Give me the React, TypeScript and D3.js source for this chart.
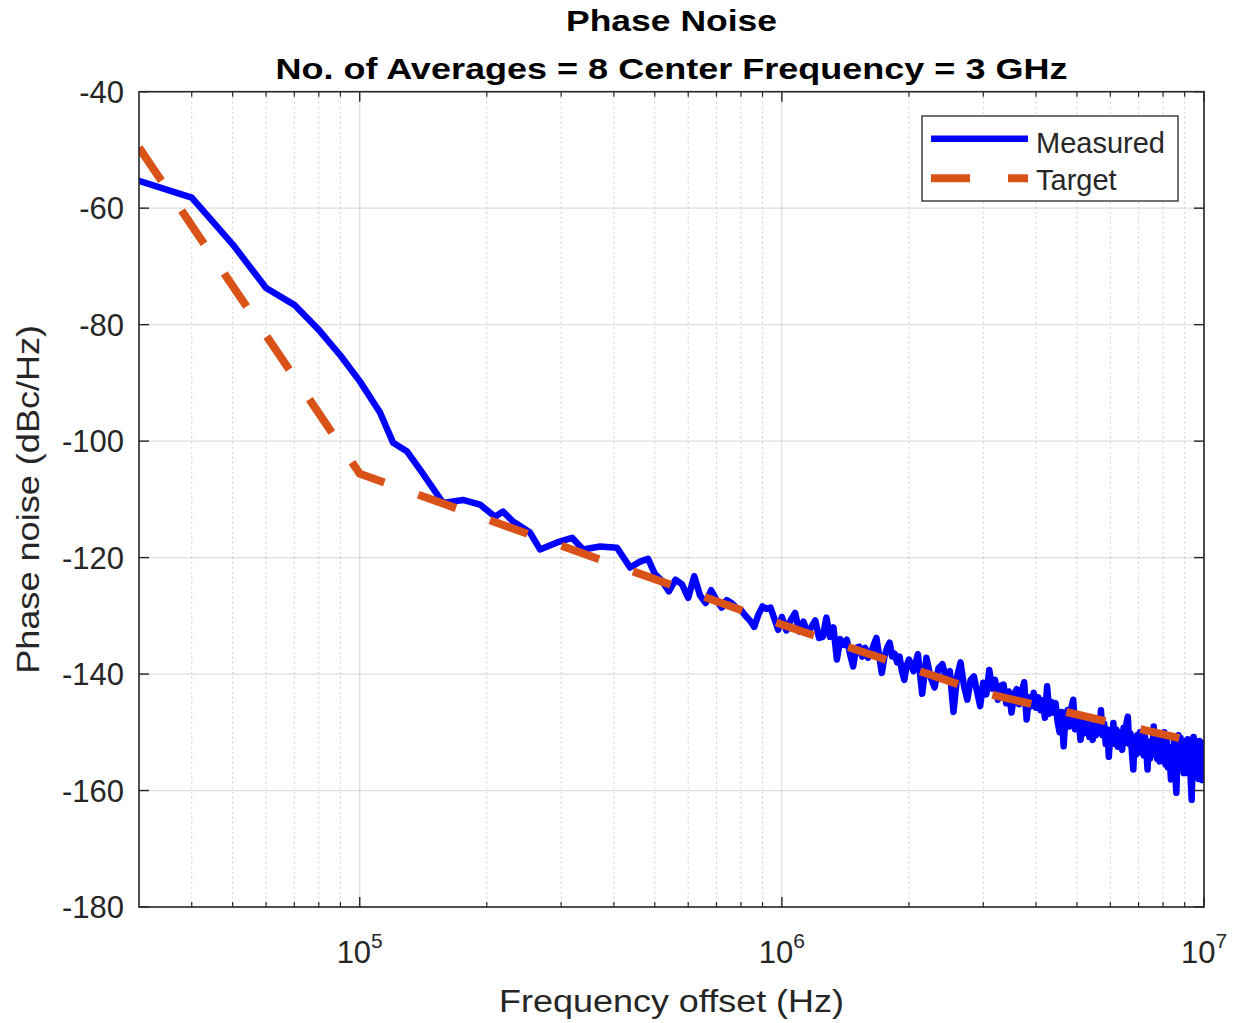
import React from 'react';
import * as d3 from 'd3';

const titleLines = ['Phase Noise', 'No. of Averages = 8 Center Frequency = 3 GHz'];
const xLabel = 'Frequency offset (Hz)';
const yLabel = 'Phase noise (dBc/Hz)';
const legendLabels = ['Measured', 'Target'];
const xDomain = [3e4, 1e7];
const yDomain = [-180, -40];
const yTicks = [-180, -160, -140, -120, -100, -80, -60, -40];
const xMajorTicks = [1e5, 1e6, 1e7];
const xMajorExp = ['5', '6', '7'];

const measuredFreq = [
  3.0e4, 4.0e4, 5.0e4, 6.0e4, 7.0e4, 8.0e4, 9.0e4, 1.0e5, 1.117e5, 1.2e5,
  1.295e5, 1.39e5, 1.575e5, 1.756e5, 1.928e5, 2.092e5, 2.185e5, 2.308e5, 2.532e5, 2.674e5,
  2.934e5, 3.185e5, 3.381e5, 3.709e5, 4.069e5, 4.37e5, 4.614e5, 4.82e5,
  5.0e5, 5.2e5, 5.4e5, 5.6e5, 5.8e5, 6.0e5, 6.2e5, 6.4e5, 6.6e5, 6.8e5,
  7.0e5, 7.2e5, 7.4e5, 7.6e5, 7.8e5, 8.0e5, 8.2e5, 8.4e5, 8.6e5, 8.8e5,
  9.0e5, 9.2e5, 9.4e5, 9.6e5, 9.8e5,
  1.000e6, 1.025e6, 1.050e6, 1.075e6, 1.100e6, 1.125e6, 1.150e6, 1.175e6, 1.200e6, 1.225e6,
  1.250e6, 1.275e6, 1.300e6, 1.325e6, 1.350e6, 1.375e6, 1.400e6, 1.425e6, 1.450e6, 1.475e6,
  1.500e6, 1.525e6, 1.550e6, 1.575e6, 1.600e6, 1.625e6, 1.650e6, 1.675e6, 1.700e6, 1.725e6,
  1.750e6, 1.775e6, 1.800e6, 1.825e6, 1.850e6, 1.875e6, 1.900e6, 1.925e6, 1.950e6, 1.975e6,
  2.00e6, 2.05e6, 2.10e6, 2.15e6, 2.20e6, 2.25e6, 2.30e6, 2.35e6, 2.40e6, 2.45e6,
  2.50e6, 2.55e6, 2.60e6, 2.65e6, 2.70e6, 2.75e6, 2.80e6, 2.85e6, 2.90e6, 2.95e6,
  3.00e6, 3.05e6, 3.10e6, 3.15e6, 3.20e6, 3.25e6, 3.30e6, 3.35e6, 3.40e6, 3.45e6,
  3.50e6, 3.55e6, 3.60e6, 3.65e6, 3.70e6, 3.75e6, 3.80e6, 3.85e6, 3.90e6, 3.95e6,
  4.00e6, 4.05e6, 4.10e6, 4.15e6, 4.20e6, 4.25e6, 4.30e6, 4.35e6, 4.40e6, 4.45e6,
  4.50e6, 4.55e6, 4.60e6, 4.65e6, 4.70e6, 4.75e6, 4.80e6, 4.85e6, 4.90e6, 4.95e6,
  5.00e6, 5.05e6, 5.10e6, 5.15e6, 5.20e6, 5.25e6, 5.30e6, 5.35e6, 5.40e6, 5.45e6,
  5.50e6, 5.55e6, 5.60e6, 5.65e6, 5.70e6, 5.75e6, 5.80e6, 5.85e6, 5.90e6, 5.95e6,
  6.00e6, 6.05e6, 6.10e6, 6.15e6, 6.20e6, 6.25e6, 6.30e6, 6.35e6, 6.40e6, 6.45e6,
  6.50e6, 6.55e6, 6.60e6, 6.65e6, 6.70e6, 6.75e6, 6.80e6, 6.85e6, 6.90e6, 6.95e6,
  7.00e6, 7.05e6, 7.10e6, 7.15e6, 7.20e6, 7.25e6, 7.30e6, 7.35e6, 7.40e6, 7.45e6,
  7.50e6, 7.55e6, 7.60e6, 7.65e6, 7.70e6, 7.75e6, 7.80e6, 7.85e6, 7.90e6, 7.95e6,
  8.00e6, 8.05e6, 8.10e6, 8.15e6, 8.20e6, 8.25e6, 8.30e6, 8.35e6, 8.40e6, 8.45e6,
  8.50e6, 8.55e6, 8.60e6, 8.65e6, 8.70e6, 8.75e6, 8.80e6, 8.85e6, 8.90e6, 8.95e6,
  9.00e6, 9.05e6, 9.10e6, 9.15e6, 9.20e6, 9.25e6, 9.30e6, 9.35e6, 9.40e6, 9.45e6,
  9.50e6, 9.55e6, 9.60e6, 9.65e6, 9.70e6, 9.75e6, 9.80e6, 9.85e6, 9.90e6, 9.95e6,
  1.0e7,
];

const measuredDb = [
  -55.3, -58.2, -66.2, -73.7, -76.6, -80.9, -85.3, -89.7, -95.1, -100.3,
  -101.8, -104.9, -110.6, -110.1, -110.9, -113.0, -112.1, -113.8, -115.7, -118.6,
  -117.4, -116.6, -118.6, -118.1, -118.3, -121.7, -120.7, -120.2,
  -122.8, -124.0, -125.8, -123.8, -124.6, -126.9, -123.2, -126.5, -127.8, -125.6,
  -127.3, -128.6, -127.3, -127.8, -128.6, -129.0, -130.0, -130.8, -131.9, -129.8,
  -128.4, -128.8, -128.6, -130.5, -132.4,
  -130.2, -132.5, -130.7, -129.5, -132.7, -131.0, -133.0, -131.9, -130.8, -133.8,
  -133.6, -130.3, -133.6, -132.0, -137.5, -134.0, -135.0, -134.1, -136.5, -138.7,
  -135.5, -135.3, -137.0, -135.5, -137.2, -136.4, -135.0, -133.8, -136.8, -139.8,
  -137.0, -135.5, -134.6, -137.0, -136.5, -138.0, -137.0, -139.5, -141.0, -138.5,
  -137.5, -139.5, -136.6, -143.4, -137.2, -140.5, -142.3, -139.0, -138.3, -140.8,
  -139.5, -146.5, -140.5, -138.0, -142.0, -144.4, -141.0, -140.4, -143.0, -145.5,
  -141.5, -143.5, -139.3, -142.5, -141.0, -144.4, -142.0, -141.8, -145.0, -143.0,
  -146.6, -143.5, -142.6, -145.2, -143.0, -141.4, -147.8, -144.0, -145.5, -143.2,
  -145.8, -144.0, -146.2, -144.5, -147.5, -142.1, -146.8, -144.8, -146.6, -145.0,
  -148.2, -150.0, -146.5, -152.4, -147.0, -146.2, -149.0, -145.8, -144.4, -149.5,
  -147.0, -148.0, -151.3, -147.5, -150.2, -148.5, -147.3, -150.8, -148.6, -151.3,
  -149.0, -150.5, -147.8, -149.8, -146.2, -150.5, -148.5, -152.0, -149.5, -154.2,
  -150.0, -151.5, -148.4, -152.0, -149.5, -152.5, -150.0, -151.3, -153.0, -149.2,
  -151.8, -148.5, -147.3, -152.0, -150.2, -153.5, -156.4, -151.0, -153.8, -150.5,
  -152.8, -150.0, -153.5, -151.0, -154.0, -150.8, -153.2, -156.4, -152.0, -154.5,
  -151.5, -153.0, -149.0, -153.8, -151.2, -154.6, -152.0, -155.0, -153.0, -150.2,
  -154.5, -150.0, -155.5, -150.5, -156.0, -152.5, -155.0, -158.1, -153.0, -156.5,
  -150.8, -157.0, -160.4, -154.0, -150.5, -156.0, -151.0, -155.8, -153.0, -157.0,
  -154.0, -151.5, -157.0, -151.2, -156.5, -154.0, -158.0, -161.6, -155.0, -150.8,
  -156.8, -152.0, -157.5, -154.2, -158.0, -151.5, -157.0, -154.5, -158.2, -151.8,
  -156.0,
];

const targetFreq = [3e4, 1e5, 1e6, 3e6, 1e7];
const targetDb = [-49.6, -105.6, -131.5, -143.2, -152.0];

const FONT = '"Liberation Sans", Arial, Helvetica, sans-serif';
const AX = '#262626';
const BLUE = '#0000FF';
const ORANGE = '#D95319';

export default function App() {
  const W = 1237, H = 1023;
  const L = 139, R = 1204, T = 91.7, B = 907;
  const x = d3.scaleLog().domain(xDomain).range([L, R]);
  const y = d3.scaleLinear().domain(yDomain).range([B, T]);
  const allTicks = x.ticks();
  const minor = allTicks.filter(
    (t) => !xMajorTicks.some((m) => Math.abs(m - t) / m < 1e-6) && t > xDomain[0] * 1.0001
  );
  const measured: [number, number][] = measuredFreq.map((f, i) => [f, measuredDb[i]]);
  const target: [number, number][] = targetFreq.map((f, i) => [f, targetDb[i]]);
  const line = d3
    .line<[number, number]>()
    .x((d) => x(d[0]))
    .y((d) => y(d[1]));

  const cx = (L + R) / 2;
  const cy = (T + B) / 2;

  return (
    <svg
      width={W}
      height={H}
      style={{ position: 'absolute', left: 0, top: 0, background: '#fff' }}
      fontFamily={FONT}
    >
      <defs>
        <clipPath id="plotclip">
          <rect x={L} y={T} width={R - L} height={B - T} />
        </clipPath>
      </defs>
      <rect x={0} y={0} width={W} height={H} fill="#fff" />
      <rect x={L} y={T} width={R - L} height={B - T} fill="#fff" />

      {minor.map((t) => (
        <line
          key={'mg' + t}
          x1={x(t)}
          x2={x(t)}
          y1={T}
          y2={B}
          stroke={AX}
          strokeOpacity={0.22}
          strokeWidth={1}
          strokeDasharray="2 3"
        />
      ))}
      {xMajorTicks.map((t) => (
        <line key={'xg' + t} x1={x(t)} x2={x(t)} y1={T} y2={B} stroke={AX} strokeOpacity={0.15} strokeWidth={1.2} />
      ))}
      {yTicks.map((t) => (
        <line key={'yg' + t} x1={L} x2={R} y1={y(t)} y2={y(t)} stroke={AX} strokeOpacity={0.15} strokeWidth={1.2} />
      ))}

      <g clipPath="url(#plotclip)">
        <path
          d={line(measured) || ''}
          fill="none"
          stroke={BLUE}
          strokeWidth={6.5}
          strokeLinejoin="round"
          strokeLinecap="round"
        />
        <path
          d={line(target) || ''}
          fill="none"
          stroke={ORANGE}
          strokeWidth={8}
          strokeDasharray="40 36"
          strokeLinecap="butt"
        />
      </g>

      <rect x={L} y={T} width={R - L} height={B - T} fill="none" stroke={AX} strokeWidth={1.6} />

      {xMajorTicks.map((t) => (
        <g key={'xt' + t}>
          <line x1={x(t)} x2={x(t)} y1={B} y2={B - 10} stroke={AX} strokeWidth={1.4} />
          <line x1={x(t)} x2={x(t)} y1={T} y2={T + 10} stroke={AX} strokeWidth={1.4} />
        </g>
      ))}
      {minor.map((t) => (
        <g key={'xm' + t}>
          <line x1={x(t)} x2={x(t)} y1={B} y2={B - 5} stroke={AX} strokeWidth={1.2} />
          <line x1={x(t)} x2={x(t)} y1={T} y2={T + 5} stroke={AX} strokeWidth={1.2} />
        </g>
      ))}
      {yTicks.map((t) => (
        <g key={'yt' + t}>
          <line x1={L} x2={L + 10} y1={y(t)} y2={y(t)} stroke={AX} strokeWidth={1.4} />
          <line x1={R} x2={R - 10} y1={y(t)} y2={y(t)} stroke={AX} strokeWidth={1.4} />
        </g>
      ))}

      {yTicks.map((t) => (
        <text key={'yl' + t} x={124} y={y(t) + 11} textAnchor="end" fontSize={31} fill={AX}>
          {String(t)}
        </text>
      ))}
      {xMajorTicks.map((t, i) => (
        <text key={'xl' + t} x={x(t)} y={963} textAnchor="middle" fontSize={31} fill={AX}>
          10
          <tspan dy={-15} fontSize={21}>
            {xMajorExp[i]}
          </tspan>
        </text>
      ))}

      <text
        x={cx}
        y={1012}
        textAnchor="middle"
        fontSize={31}
        fill={AX}
        textLength={345}
        lengthAdjust="spacingAndGlyphs"
      >
        {xLabel}
      </text>
      <text
        transform={`translate(39, ${cy}) rotate(-90)`}
        textAnchor="middle"
        fontSize={31}
        fill={AX}
        textLength={349}
        lengthAdjust="spacingAndGlyphs"
      >
        {yLabel}
      </text>

      <text
        x={cx}
        y={31}
        textAnchor="middle"
        fontSize={30}
        fontWeight="bold"
        fill="#000"
        textLength={211}
        lengthAdjust="spacingAndGlyphs"
      >
        {titleLines[0]}
      </text>
      <text
        x={cx}
        y={79}
        textAnchor="middle"
        fontSize={30}
        fontWeight="bold"
        fill="#000"
        textLength={792}
        lengthAdjust="spacingAndGlyphs"
      >
        {titleLines[1]}
      </text>

      <g>
        <rect x={922} y={116} width={256} height={85} fill="#fff" stroke={AX} strokeWidth={1.3} />
        <line x1={931} x2={1028} y1={138.7} y2={138.7} stroke={BLUE} strokeWidth={6.5} />
        <line
          x1={931}
          x2={1028}
          y1={178.3}
          y2={178.3}
          stroke={ORANGE}
          strokeWidth={8}
          strokeDasharray="39 38"
        />
        <text x={1036} y={152.5} fontSize={29} fill={AX}>
          {legendLabels[0]}
        </text>
        <text x={1036} y={190} fontSize={29} fill={AX}>
          {legendLabels[1]}
        </text>
      </g>
    </svg>
  );
}
